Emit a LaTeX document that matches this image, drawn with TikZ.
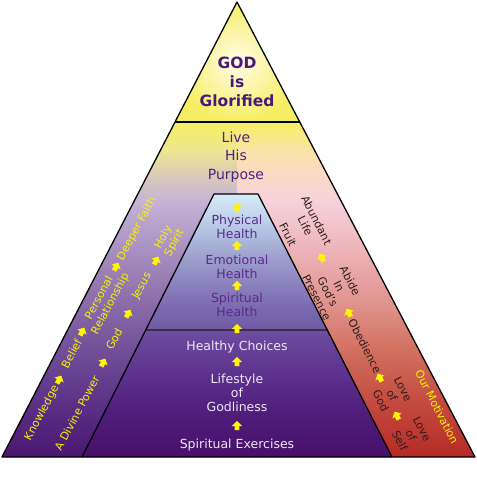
\documentclass[tikz,border=0pt]{standalone}
\usepackage{fontspec}
\setmainfont{DejaVu Sans}

\definecolor{ttxt}{HTML}{4A1878}
\definecolor{ptxt}{HTML}{4E2080}
\definecolor{ctxt}{HTML}{5A2A8C}
\definecolor{wtxt}{HTML}{EEE8F4}
\definecolor{ytxt}{HTML}{F8F200}
\definecolor{rtxt}{HTML}{2E1C1C}
\definecolor{arrowy}{HTML}{FFF500}
\definecolor{midline}{HTML}{3C2A50}
\definecolor{topin}{HTML}{FFFDEA}
\definecolor{topout}{HTML}{F6EE62}
% left gradient
\definecolor{La}{HTML}{F6EE60}\definecolor{Lb}{HTML}{EFE690}\definecolor{Lc}{HTML}{D9CCB8}
\definecolor{Ld}{HTML}{C5B5D5}\definecolor{Le}{HTML}{A890C2}\definecolor{Lf}{HTML}{8C6EAA}
\definecolor{Lg}{HTML}{714F98}\definecolor{Lh}{HTML}{5C3388}\definecolor{Li}{HTML}{4A1670}
% right gradient
\definecolor{Ra}{HTML}{F6EE60}\definecolor{Rb}{HTML}{FAE3A8}\definecolor{Rc}{HTML}{FBD9C4}
\definecolor{Rd}{HTML}{F7D2DC}\definecolor{Re}{HTML}{EDB4B8}\definecolor{Rf}{HTML}{E19590}
\definecolor{Rg}{HTML}{D2705F}\definecolor{Rh}{HTML}{C44C40}\definecolor{Ri}{HTML}{B62A26}
% central
\definecolor{Ua}{HTML}{D6ECF8}\definecolor{Ub}{HTML}{B4C4E4}\definecolor{Uc}{HTML}{9C9CCC}
\definecolor{Ud}{HTML}{8070B4}\definecolor{Ue}{HTML}{6E5AA4}
\definecolor{Wa}{HTML}{6C4E9E}\definecolor{Wb}{HTML}{5E3490}\definecolor{Wc}{HTML}{511E7C}
\definecolor{Wd}{HTML}{46106A}

\pgfdeclareverticalshading{leftgrad}{100bp}{color(0bp)=(Li); color(25bp)=(Li);
 color(33.51bp)=(Lh); color(40.97bp)=(Lg); color(48.43bp)=(Lf); color(55.9bp)=(Le);
 color(63.36bp)=(Ld); color(67.09bp)=(Lc); color(70.82bp)=(Lb); color(75bp)=(La); color(100bp)=(La)}
\pgfdeclareverticalshading{rightgrad}{100bp}{color(0bp)=(Ri); color(25bp)=(Ri);
 color(33.51bp)=(Rh); color(40.97bp)=(Rg); color(48.43bp)=(Rf); color(55.9bp)=(Re);
 color(63.36bp)=(Rd); color(67.09bp)=(Rc); color(70.82bp)=(Rb); color(75bp)=(Ra); color(100bp)=(Ra)}
\pgfdeclareverticalshading{uppergrad}{100bp}{color(0bp)=(Ue); color(25bp)=(Ue);
 color(36bp)=(Ud); color(50.7bp)=(Uc); color(61.8bp)=(Ub); color(75bp)=(Ua); color(100bp)=(Ua)}
\pgfdeclareverticalshading{lowergrad}{100bp}{color(0bp)=(Wd); color(25bp)=(Wd);
 color(43.5bp)=(Wc); color(59.25bp)=(Wb); color(75bp)=(Wa); color(100bp)=(Wa)}

\tikzset{
 lbl/.style={inner sep=0pt, align=center},
 toptxt/.style={lbl, text=ttxt, font=\fontsize{15.5}{19}\selectfont\bfseries},
 purtxt/.style={lbl, text=ptxt, font=\fontsize{14}{18.5}\selectfont},
 coltxt/.style={lbl, text=ctxt, font=\fontsize{12.5}{13.5}\selectfont},
 lowtxt/.style={lbl, text=wtxt, font=\fontsize{12.5}{14}\selectfont},
 lband/.style={lbl, text=ytxt, font=\fontsize{11}{12.5}\selectfont, rotate=62},
 rband/.style={lbl, text=rtxt, font=\fontsize{11}{12.5}\selectfont, rotate=-63},
 ymot/.style={lbl, text=ytxt, font=\fontsize{11}{12.5}\selectfont, rotate=-63},
 pics/yarr/.style={code={\fill[arrowy, rotate=#1] (0pt,5pt) -- (5.2pt,0pt) -- (2.4pt,0pt)
   -- (2.4pt,-4pt) -- (-2.4pt,-4pt) -- (-2.4pt,0pt) -- (-5.2pt,0pt) -- cycle;}},
 edge/.style={draw=black, line width=1.3pt, line join=round},
}

\begin{document}
\begin{tikzpicture}[x=1pt,y=-1pt]
\useasboundingbox (0,0) rectangle (477,480);
\fill[white] (0,0) rectangle (477,480);

% coordinates
\coordinate (apex) at (237,2);
\coordinate (bl) at (2,457);
\coordinate (br) at (475,457);
\coordinate (tl) at (175,122);
\coordinate (tm) at (237,122);
\coordinate (tr) at (300,122);
\coordinate (bm) at (237,457);
\coordinate (itl) at (214,194);
\coordinate (itr) at (258,194);
\coordinate (iml) at (145.74,330);
\coordinate (imr) at (327.29,330);
\coordinate (ibl) at (82,457);
\coordinate (ibr) at (392,457);

% fills
\path[shading=leftgrad] (tl) -- (tm) -- (bm) -- (bl) -- cycle;
\path[shading=rightgrad] (tm) -- (tr) -- (br) -- (bm) -- cycle;
\path[inner color=topin, outer color=topout] (apex) -- (tr) -- (tl) -- cycle;
\path[shading=uppergrad] (itl) -- (itr) -- (imr) -- (iml) -- cycle;
\path[shading=lowergrad] (iml) -- (imr) -- (ibr) -- (ibl) -- cycle;

% outlines
\draw[midline, line width=1.2pt] (iml) -- (imr);
\draw[edge] (ibl) -- (itl) -- (itr) -- (ibr);
\draw[edge] (tl) -- (tr);
\draw[edge] (apex) -- (br) -- (bl) -- cycle;

% top texts
\node[toptxt] (god) at (237,82) {GOD\\is\\Glorified};
\node[purtxt] (live) at (236,157) {Live\\His\\Purpose};

% central column
\node[coltxt] (phys) at (237,227) {Physical\\Health};
\node[coltxt] (emo) at (237,267) {Emotional\\Health};
\node[coltxt] (spir) at (237,305) {Spiritual\\Health};
\node[lowtxt] (hc) at (237,347) {Healthy Choices};
\node[lowtxt] (life) at (237,393) {Lifestyle\\of\\Godliness};
\node[lowtxt] (se) at (237,445) {Spiritual Exercises};
\pic at (237,208) {yarr=0};
\pic at (237,246) {yarr=0};
\pic at (237,286) {yarr=0};
\pic at (237,329) {yarr=0};
\pic at (237,362) {yarr=0};
\pic at (237,426) {yarr=0};

% left band
\node[lband] (know) at (42,413) {Knowledge};
\pic at (59,380) {yarr=-28};
\node[lband] (belief) at (71.5,353.5) {Belief};
\pic at (82,332) {yarr=-28};
\node[lband] (pers) at (105,301) {Personal\\Relationship};
\pic at (116,267) {yarr=-28};
\node[lband] (deep) at (137,229) {Deeper Faith};
\node[lband] (divine) at (77,413) {A Divine Power};
\pic at (103,363) {yarr=-28};
\node[lband] (godl) at (114,339) {God};
\pic at (128,314) {yarr=-28};
\node[lband] (jesus) at (142,286) {Jesus};
\pic at (156,261) {yarr=-28};
\node[lband] (holy) at (169,240) {Holy\\Spirit};

% right band
\node[rband] (fruit) at (288,235) {Fruit};
\node[rband] (abund) at (311,223) {Abundant\\Life};
\pic at (322,258) {yarr=27};
\node[rband] (abide) at (333.5,289) {Abide\\In\\God's\\Presence};
\pic at (349,313) {yarr=27};
\node[rband] (obed) at (365,346) {Obedience};
\pic at (380,378) {yarr=27};
\node[rband] (logod) at (392,395) {Love\\of\\God};
\pic at (397,416) {yarr=27};
\node[rband] (loself) at (411,435) {Love\\of\\Self};
\node[ymot] (motiv) at (437,407) {Our Motivation};
\end{tikzpicture}
\end{document}
